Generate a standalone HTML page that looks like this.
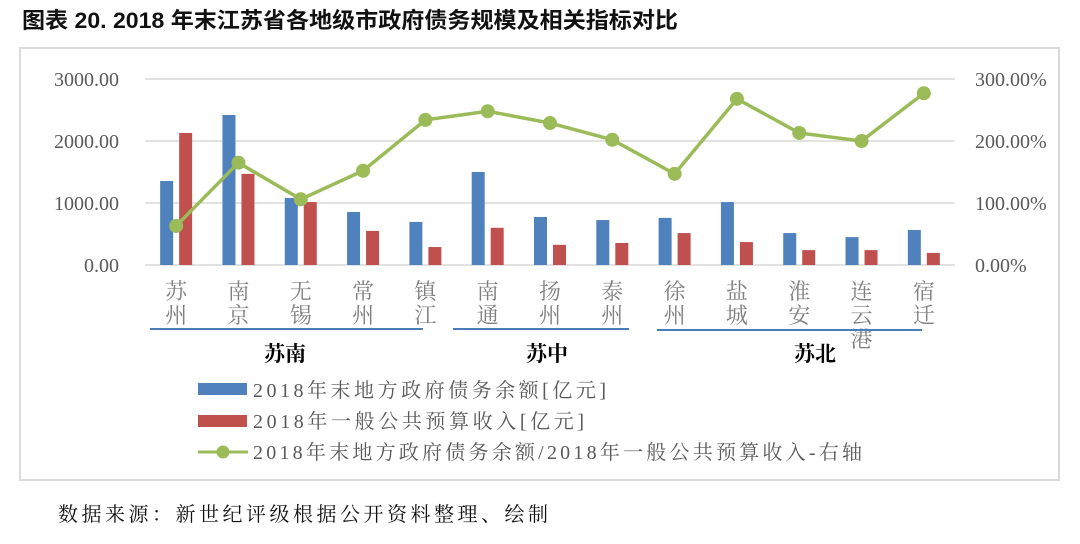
<!DOCTYPE html>
<html><head><meta charset="utf-8"><style>
body{margin:0;background:#fff;width:1080px;height:539px;overflow:hidden}
svg text{font-family:"Liberation Serif","Noto Serif CJK SC",serif}
</style></head><body>
<svg width="1080" height="539" xmlns="http://www.w3.org/2000/svg">
<text x="22" y="28" font-size="22" font-weight="bold" fill="#111" textLength="656" lengthAdjust="spacingAndGlyphs" style="font-family:'Liberation Sans','Noto Sans CJK SC',sans-serif">图表 20. 2018 年末江苏省各地级市政府债务规模及相关指标对比</text>
<rect x="20" y="48" width="1039" height="432" fill="none" stroke="#d9d9d9" stroke-width="2"/>
<g id="grid"></g><g id="bars"></g><g id="line"></g><g id="labels"></g>
<g>
<line x1="150" y1="329" x2="423" y2="329" stroke="#4a7ebb" stroke-width="2"/>
<line x1="453" y1="329" x2="629" y2="329" stroke="#4a7ebb" stroke-width="2"/>
<line x1="657" y1="330" x2="922" y2="330" stroke="#4a7ebb" stroke-width="2"/>
<text x="285" y="361" font-size="21" font-weight="bold" text-anchor="middle">苏南</text>
<text x="547" y="361" font-size="21" font-weight="bold" text-anchor="middle">苏中</text>
<text x="815" y="361" font-size="21" font-weight="bold" text-anchor="middle">苏北</text>
</g>
<g font-size="20" fill="#595959">
<g><rect x="198" y="383" width="49" height="12" fill="#4f81bd"/><text x="253" y="397" textLength="353" lengthAdjust="spacing">2018年末地方政府债务余额[亿元]</text></g>
<g><rect x="198" y="415" width="49" height="12" fill="#c0504d"/><text x="253" y="428" textLength="331" lengthAdjust="spacing">2018年一般公共预算收入[亿元]</text></g>
<g><line x1="198" y1="452" x2="248" y2="452" stroke="#9bbb59" stroke-width="3"/><circle cx="223" cy="452" r="6.5" fill="#9bbb59"/><text x="253" y="459" textLength="609" lengthAdjust="spacing">2018年末地方政府债务余额/2018年一般公共预算收入-右轴</text></g>
</g>
<text x="58" y="521" font-size="20" fill="#111" textLength="490" lengthAdjust="spacing">数据来源：新世纪评级根据公开资料整理、绘制</text>
</svg>
<script>
const categories=["苏州","南京","无锡","常州","镇江","南通","扬州","泰州","徐州","盐城","淮安","连云港","宿迁"];
const debt=[1355,2420,1080,855,695,1500,775,725,760,1015,515,450,565];
const revenue=[2130,1470,1015,550,290,600,325,355,515,370,240,240,195];
const ratio=[63,165,106,152,234,248,229,202,147,268,213,200,277];
const leftTicks=[0,1000,2000,3000];
const rightTicks=[0,100,200,300];
const NS="http://www.w3.org/2000/svg";
const X0=145,X1=955,Y0=265,Y1=79;
const band=(X1-X0)/categories.length;
const xc=i=>X0+band*(i+0.5);
const yl=v=>Y0-(v/3000)*(Y0-Y1);
const yr=v=>Y0-(v/300)*(Y0-Y1);
function mk(tag,attrs,parent,txt){const e=document.createElementNS(NS,tag);for(const k in attrs)e.setAttribute(k,attrs[k]);if(txt!=null)e.textContent=txt;document.getElementById(parent).appendChild(e);return e;}
leftTicks.forEach((t,i)=>{
 const l=mk('line',{x1:X0,x2:X1,y1:yl(t),y2:yl(t),stroke:'#d9d9d9','stroke-width':1.5},'grid');
 
 
 const a=mk('text',{x:119,y:yl(t)+7,'font-size':20,fill:'#595959','text-anchor':'end'},'grid',t.toFixed(2));
 
 
});
rightTicks.forEach(t=>{
 const a=mk('text',{x:975,y:yr(t)+7,'font-size':20,fill:'#595959'},'grid',t.toFixed(2)+'%');
 
 
});
categories.forEach((c,i)=>{
 const b=mk('rect',{x:xc(i)-16,y:yl(debt[i]),width:13,height:Y0-yl(debt[i]),fill:'#4f81bd'},'bars');
 
 
 const r=mk('rect',{x:xc(i)+3,y:yl(revenue[i]),width:13,height:Y0-yl(revenue[i]),fill:'#c0504d'},'bars');
 
 
 [...c].forEach((ch,j)=>{
  const t=mk('text',{x:xc(i),y:299+j*24,'font-size':22,fill:'#7f7f7f','text-anchor':'middle'},'labels',ch);
  
  
 });
});
const pts=ratio.map((v,i)=>xc(i)+','+yr(v)).join(' ');
const pl=mk('polyline',{points:pts,fill:'none',stroke:'#9bbb59','stroke-width':3.5},'line');


ratio.forEach((v,i)=>{
 const c=mk('circle',{cx:xc(i),cy:yr(v),r:7,fill:'#9bbb59'},'line');
 
 
});
</script>
</body></html>
